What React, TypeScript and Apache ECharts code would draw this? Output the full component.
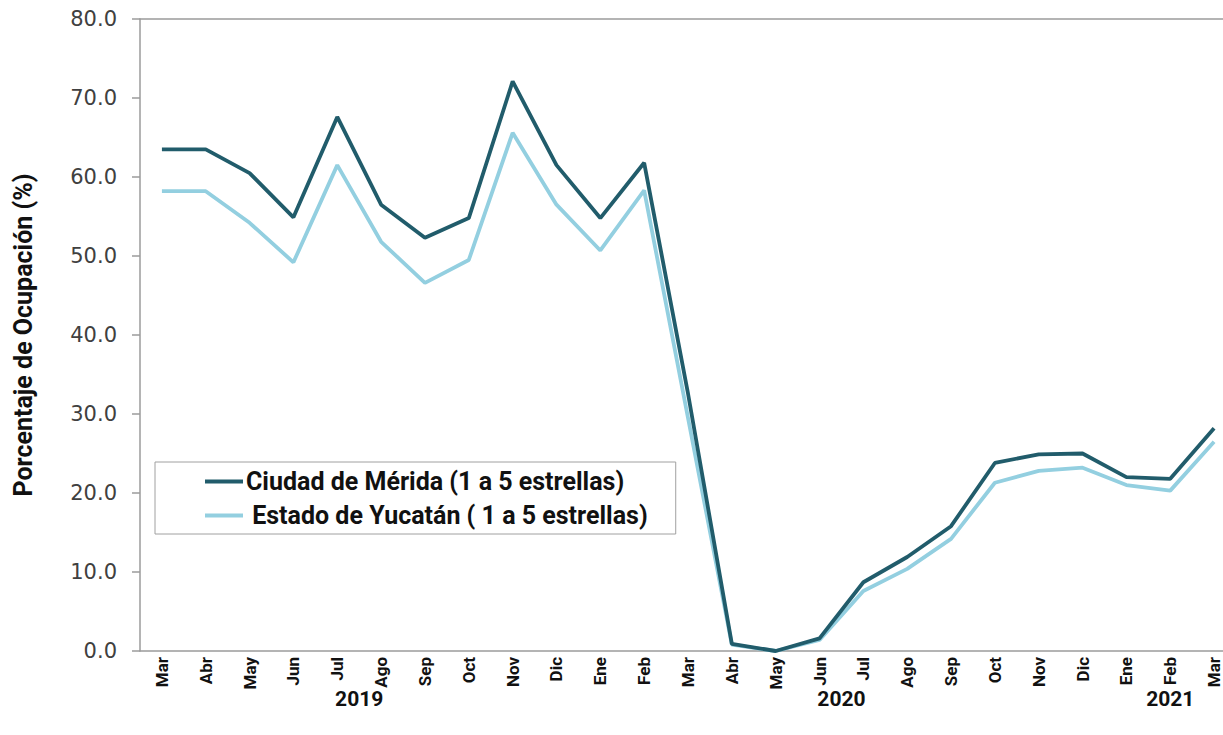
import React, { useEffect, useRef } from "react";
import * as echarts from "echarts";

const months = [
  "Mar", "Abr", "May", "Jun", "Jul", "Ago", "Sep", "Oct", "Nov", "Dic", "Ene", "Feb",
  "Mar", "Abr", "May", "Jun", "Jul", "Ago", "Sep", "Oct", "Nov", "Dic", "Ene", "Feb", "Mar",
];
const yearGroups = [
  { label: "2019", from: 0, to: 9 },
  { label: "2020", from: 10, to: 21 },
  { label: "2021", from: 22, to: 24 },
];
const merida = [
  63.5, 63.5, 60.5, 54.9, 67.6, 56.5, 52.3, 54.8, 72.1, 61.5, 54.8, 61.8,
  32.6, 0.9, 0.0, 1.6, 8.7, 11.9, 15.8, 23.8, 24.9, 25.0, 22.0, 21.8, 28.2,
];
const yucatan = [
  58.2, 58.2, 54.2, 49.2, 61.5, 51.8, 46.6, 49.5, 65.6, 56.5, 50.7, 58.3,
  29.5, 0.8, 0.0, 1.4, 7.6, 10.4, 14.2, 21.3, 22.8, 23.2, 21.0, 20.3, 26.5,
];
const seriesNames = ["Ciudad de Mérida (1 a 5 estrellas)", " Estado de Yucatán ( 1 a 5 estrellas)"];
const yMin = 0;
const yMax = 80;
const yInterval = 10;

export default function App() {
  const ref = useRef<HTMLDivElement>(null);
  useEffect(() => {
    if (!ref.current) return;
    const chart = echarts.init(ref.current, null, { renderer: "svg" });
    const axisGray = "#9b9b9b";
    const boldFont = "Roboto";
    chart.setOption({
      animation: false,
      backgroundColor: "#ffffff",
      grid: {
        left: 140,
        top: 19,
        width: 1096,
        height: 632,
        containLabel: false,
        outerBoundsMode: "none",
      },
      legend: {
        orient: "vertical",
        left: 155,
        top: 462,
        padding: [7, 28, 6, 50],
        itemGap: 9,
        itemWidth: 38,
        itemHeight: 4,
        icon: "rect",
        backgroundColor: "#ffffff",
        borderColor: "#a0a0a0",
        borderWidth: 1,
        textStyle: { fontFamily: boldFont, fontWeight: "bold", fontSize: 25, color: "#111", padding: [0, 0, 0, -2] },
        data: seriesNames,
      },
      xAxis: [
        {
          type: "category",
          data: months,
          boundaryGap: true,
          axisLine: { show: true, lineStyle: { color: axisGray, width: 1.5 } },
          axisTick: { show: false },
          axisLabel: {
            interval: 0,
            rotate: 90,
            margin: 6,
            fontFamily: boldFont,
            fontWeight: "bold",
            fontSize: 17,
            color: "#111",
          },
          splitLine: { show: false },
        },
        {
          type: "category",
          data: months,
          position: "top",
          axisLine: { show: true, lineStyle: { color: axisGray, width: 1.5 } },
          axisTick: { show: false },
          axisLabel: { show: false },
          splitLine: { show: false },
        },
      ],
      yAxis: {
        type: "value",
        min: yMin,
        max: yMax,
        interval: yInterval,
        name: "Porcentaje de Ocupación (%)",
        nameLocation: "middle",
        nameRotate: 90,
        nameGap: 104,
        nameTextStyle: { fontFamily: boldFont, fontWeight: "bold", fontSize: 25, color: "#111" },
        axisLine: { show: true, lineStyle: { color: axisGray, width: 1.5 } },
        axisTick: { show: true, length: 8, lineStyle: { color: axisGray, width: 1.5 } },
        axisLabel: {
          margin: 23,
          fontFamily: "DejaVu Sans",
          fontSize: 21,
          color: "#404040",
          formatter: (v: number) => v.toFixed(1),
        },
        splitLine: { show: false },
      },
      series: [
        {
          name: seriesNames[0],
          type: "line",
          data: merida,
          symbol: "none",
          lineStyle: { color: "#215c6b", width: 3.8 },
          itemStyle: { color: "#215c6b" },
          z: 3,
        },
        {
          name: seriesNames[1],
          type: "line",
          data: yucatan,
          symbol: "none",
          lineStyle: { color: "#93cfe0", width: 3.8 },
          itemStyle: { color: "#93cfe0" },
          z: 2,
        },
      ],
    });
    const yearLabelY = 699;
    const graphics = yearGroups.map((g) => {
      const x1 = chart.convertToPixel({ xAxisIndex: 0 }, g.from) as number;
      const x2 = chart.convertToPixel({ xAxisIndex: 0 }, g.to) as number;
      return {
        type: "text",
        x: (x1 + x2) / 2,
        y: yearLabelY,
        style: {
          text: g.label,
          fontFamily: boldFont,
          fontWeight: "bold",
          fontSize: 21,
          fill: "#111",
          align: "center",
          verticalAlign: "middle",
        },
      };
    });
    chart.setOption({ graphic: graphics });
    return () => chart.dispose();
  }, []);
  return (
    <div
      ref={ref}
      style={{ position: "absolute", left: 0, top: 0, width: 1223, height: 735 }}
    />
  );
}
